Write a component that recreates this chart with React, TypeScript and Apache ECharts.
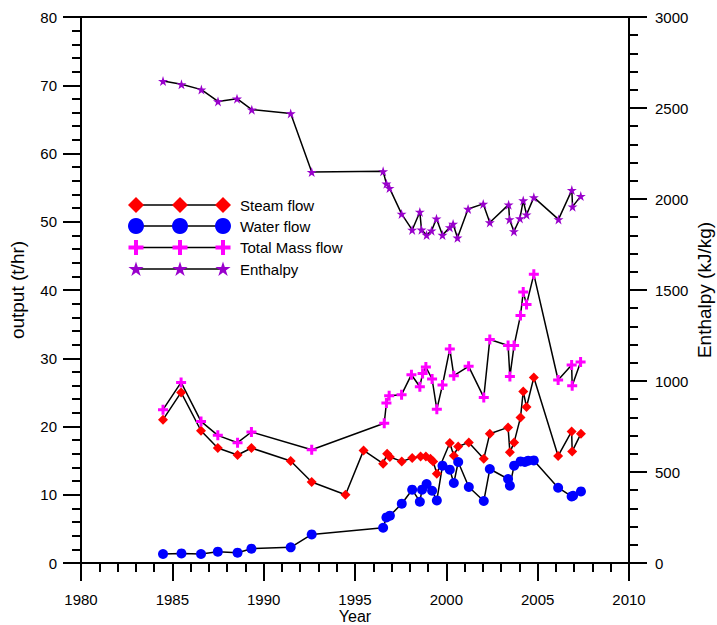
import React, { useEffect, useRef } from "react";
import * as echarts from "echarts";

// ---- data ----
const steamYear = [1984.49, 1985.48, 1986.57, 1987.49, 1988.57, 1989.33, 1991.48, 1992.63, 1994.48, 1995.47, 1996.54, 1996.76, 1996.91, 1997.56, 1998.13, 1998.59, 1998.88, 1999.13, 1999.28, 1999.48, 2000.19, 2000.41, 2000.65, 2001.23, 2002.05, 2002.38, 2003.38, 2003.48, 2003.71, 2004.06, 2004.21, 2004.39, 2004.79, 2006.12, 2006.86, 2006.89, 2007.37];
const steamFlow = [21.0, 25.0, 19.38, 16.85, 15.82, 16.85, 14.95, 11.87, 10.01, 16.5, 14.55, 16.01, 15.53, 14.89, 15.38, 15.62, 15.62, 15.28, 14.89, 13.08, 17.58, 15.72, 17.08, 17.67, 15.28, 18.95, 19.87, 16.21, 17.67, 21.33, 25.14, 22.86, 27.19, 15.68, 19.28, 16.35, 18.95];

const waterYear = [1984.49, 1985.5, 1986.57, 1987.49, 1988.57, 1989.33, 1991.48, 1992.63, 1996.54, 1996.72, 1996.91, 1997.56, 1998.13, 1998.55, 1998.67, 1998.92, 1999.22, 1999.48, 1999.79, 2000.19, 2000.41, 2000.65, 2001.23, 2002.05, 2002.38, 2003.38, 2003.48, 2003.71, 2004.06, 2004.3, 2004.48, 2004.79, 2006.12, 2006.86, 2006.94, 2007.37];
const waterFlow = [1.32, 1.41, 1.32, 1.66, 1.51, 2.1, 2.29, 4.19, 5.17, 6.68, 6.93, 8.69, 10.74, 8.98, 10.74, 11.58, 10.59, 9.17, 14.26, 13.67, 11.72, 14.8, 11.14, 9.08, 13.77, 12.31, 11.33, 14.26, 14.89, 14.8, 14.99, 15.03, 11.03, 9.76, 9.86, 10.49];

const totalYear = [1984.49, 1985.48, 1986.57, 1987.49, 1988.57, 1989.33, 1992.63, 1996.6, 1996.72, 1996.87, 1997.55, 1998.09, 1998.55, 1998.7, 1998.88, 1999.22, 1999.48, 1999.79, 2000.19, 2000.41, 2001.22, 2002.05, 2002.38, 2003.38, 2003.48, 2003.71, 2004.06, 2004.21, 2004.39, 2004.79, 2006.12, 2006.86, 2006.89, 2007.35];
const totalFlow = [22.46, 26.46, 20.75, 18.7, 17.63, 19.19, 16.6, 20.48, 23.44, 24.51, 24.66, 27.59, 25.83, 27.78, 28.72, 26.96, 22.51, 26.08, 31.36, 27.44, 28.81, 24.26, 32.76, 31.88, 27.34, 31.88, 36.28, 39.71, 37.89, 42.29, 26.81, 29.01, 25.98, 29.45];

const enthYear = [1984.49, 1985.5, 1986.59, 1987.5, 1988.54, 1989.35, 1991.48, 1992.63, 1996.54, 1996.72, 1996.89, 1997.55, 1998.13, 1998.55, 1998.64, 1998.92, 1999.19, 1999.46, 1999.79, 2000.19, 2000.37, 2000.61, 2001.19, 2002.02, 2002.38, 2003.41, 2003.46, 2003.7, 2004.03, 2004.21, 2004.39, 2004.79, 2006.14, 2006.87, 2006.91, 2007.36];
const enthalpy = [2648, 2630, 2601, 2536, 2551, 2491, 2470, 2148, 2152, 2084, 2060, 1918, 1830, 1929, 1831, 1802, 1826, 1892, 1802, 1844, 1863, 1787, 1945, 1973, 1871, 1969, 1888, 1822, 1893, 1992, 1914, 2009, 1888, 2049, 1958, 2016];

const seriesNames = ["Steam flow", "Water flow", "Total Mass flow", "Enthalpy"];
const xTicks = { min: 1980, max: 2010, interval: 5 };
const yLeft = { min: 0, max: 80, interval: 10 };
const yRight = { min: 0, max: 3000, interval: 500 };

const FONT = '"Liberation Sans", Arial, sans-serif';
const RED = "#ff0000";
const BLUE = "#0000ff";
const MAGENTA = "#ff00ff";
const PURPLE = "#9900cc";

const PLUS = "path://M3.5,0H6.5V3.5H10V6.5H6.5V10H3.5V6.5H0V3.5H3.5Z";
const STAR =
  "path://M100,0L122.45,69.1L195.1,69.1L136.3,111.8L158.8,180.9L100,138.2L41.2,180.9L63.7,111.8L4.9,69.1L77.55,69.1Z";

const pairs = (xs: number[], ys: number[]) => xs.map((x, i) => [x, ys[i]]);

function starPts(cx: number, cy: number, r: number) {
  const pts: number[][] = [];
  for (let k = 0; k < 10; k++) {
    const a = (-90 + k * 36) * (Math.PI / 180);
    const rr = k % 2 === 0 ? r : r * 0.382;
    pts.push([cx + rr * Math.cos(a), cy + rr * Math.sin(a)]);
  }
  return pts;
}
function plusPts(cx: number, cy: number, h: number, w: number) {
  return [
    [cx - w, cy - h], [cx + w, cy - h], [cx + w, cy - w], [cx + h, cy - w],
    [cx + h, cy + w], [cx + w, cy + w], [cx + w, cy + h], [cx - w, cy + h],
    [cx - w, cy + w], [cx - h, cy + w], [cx - h, cy - w], [cx - w, cy - w],
  ];
}

function legendGraphics() {
  const rows = [205, 226, 247.5, 269];
  const xs = [136, 180, 223];
  const els: any[] = [];
  rows.forEach((y, i) => {
    els.push({
      type: "line",
      shape: { x1: xs[0], y1: y, x2: xs[2], y2: y },
      style: { stroke: "#000", lineWidth: 1.5 },
      z: 10,
    });
    xs.forEach((x) => {
      let el: any;
      if (i === 0) {
        el = { type: "polygon", shape: { points: [[x, y - 8], [x + 8, y], [x, y + 8], [x - 8, y]] }, style: { fill: RED } };
      } else if (i === 1) {
        el = { type: "circle", shape: { cx: x, cy: y, r: 8 }, style: { fill: BLUE } };
      } else if (i === 2) {
        el = { type: "polygon", shape: { points: plusPts(x, y, 7.5, 2) }, style: { fill: MAGENTA } };
      } else {
        el = { type: "polygon", shape: { points: starPts(x, y + 0.5, 8) }, style: { fill: PURPLE } };
      }
      el.z = 11;
      els.push(el);
    });
    els.push({
      type: "text",
      x: 240,
      y: y,
      style: { text: seriesNames[i], fill: "#000", fontSize: 15, fontFamily: FONT, verticalAlign: "middle", align: "left" },
      z: 11,
    });
  });
  return els;
}

export default function App() {
  const ref = useRef<HTMLDivElement>(null);
  useEffect(() => {
    if (!ref.current) return;
    const chart = echarts.init(ref.current, undefined, { renderer: "svg" });
    const axisCommon = {
      axisLine: { show: true, lineStyle: { color: "#000", width: 2 } },
      axisTick: { show: true, inside: false, length: 18, lineStyle: { color: "#000", width: 2 } },
      minorTick: { show: true, splitNumber: 5, length: 9, lineStyle: { color: "#000", width: 2 } },
      splitLine: { show: false },
      axisLabel: { color: "#000", fontSize: 15, fontFamily: FONT, formatter: (v: number) => String(v) },
      nameTextStyle: { color: "#000", fontSize: 19, fontFamily: FONT },
      nameMoveOverlap: false,
    };
    chart.setOption({
      animation: false,
      backgroundColor: "#fff",
      grid: {
        left: 81, right: 88, top: 17, bottom: 62,
        containLabel: false, outerBoundsMode: "none",
        show: true, borderColor: "#000", borderWidth: 2,
      },
      xAxis: {
        type: "value",
        ...xTicks,
        position: "bottom",
        name: "Year",
        nameLocation: "middle",
        nameGap: 45,
        ...axisCommon,
        nameTextStyle: { ...axisCommon.nameTextStyle, fontSize: 16 },
        axisLabel: { ...axisCommon.axisLabel, margin: 29 },
      },
      yAxis: [
        {
          type: "value",
          ...yLeft,
          position: "left",
          name: "output (t/hr)",
          nameLocation: "middle",
          nameGap: 54,
          nameRotate: 90,
          ...axisCommon,
          axisLabel: { ...axisCommon.axisLabel, margin: 24 },
        },
        {
          type: "value",
          ...yRight,
          position: "right",
          name: "Enthalpy (kJ/kg)",
          nameLocation: "middle",
          nameGap: 66,
          nameRotate: 90,
          ...axisCommon,
          axisLabel: { ...axisCommon.axisLabel, margin: 26 },
        },
      ],
      series: [
        {
          name: seriesNames[0], type: "line", yAxisIndex: 0, data: pairs(steamYear, steamFlow),
          symbol: "diamond", symbolSize: 10, itemStyle: { color: RED },
          lineStyle: { color: "#000", width: 1.5 },
        },
        {
          name: seriesNames[1], type: "line", yAxisIndex: 0, data: pairs(waterYear, waterFlow),
          symbol: "circle", symbolSize: 10, itemStyle: { color: BLUE },
          lineStyle: { color: "#000", width: 1.5 },
        },
        {
          name: seriesNames[2], type: "line", yAxisIndex: 0, data: pairs(totalYear, totalFlow),
          symbol: PLUS, symbolSize: 10, itemStyle: { color: MAGENTA },
          lineStyle: { color: "#000", width: 1.5 },
        },
        {
          name: seriesNames[3], type: "line", yAxisIndex: 1, data: pairs(enthYear, enthalpy),
          symbol: STAR, symbolSize: 10, itemStyle: { color: PURPLE },
          lineStyle: { color: "#000", width: 1.5 },
        },
      ],
      graphic: legendGraphics(),
    });
    return () => chart.dispose();
  }, []);
  return <div ref={ref} style={{ position: "fixed", left: 0, top: 0, width: 717, height: 625 }} />;
}
